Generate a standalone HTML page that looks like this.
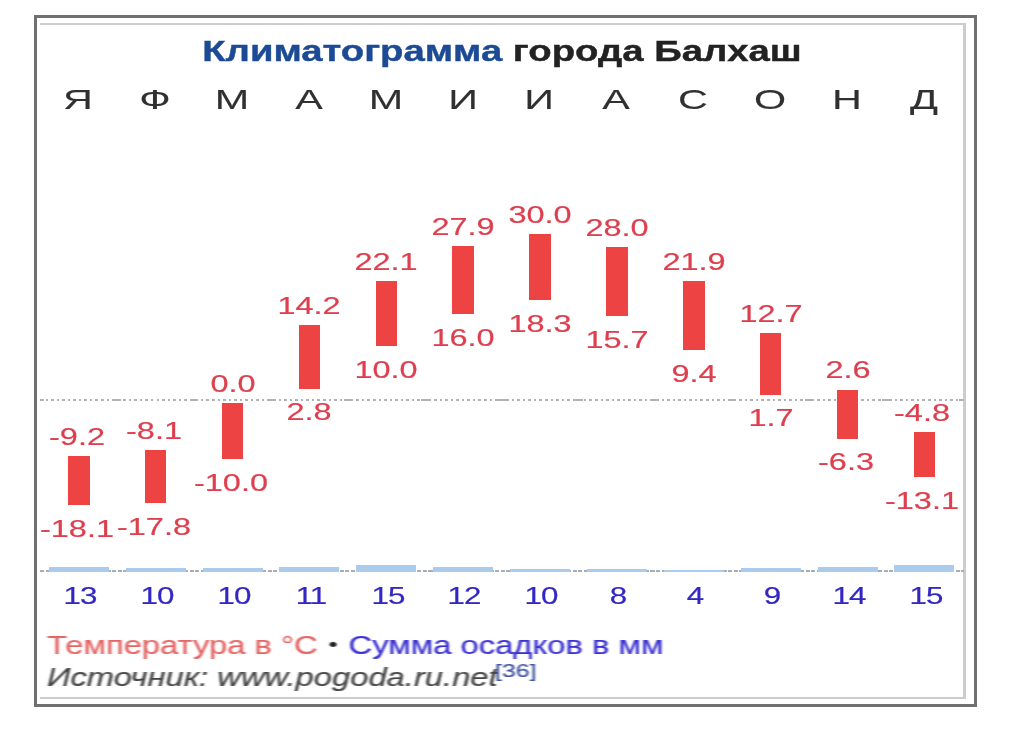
<!DOCTYPE html>
<html lang="ru"><head><meta charset="utf-8"><title>Климатограмма города Балхаш</title>
<style>
html,body{margin:0;padding:0;background:#fff}
body{width:1013px;height:734px;position:relative;overflow:hidden;font-family:"Liberation Sans",Arial,sans-serif}
.a{position:absolute}
.t{position:absolute;white-space:nowrap;line-height:1;transform-origin:50% 50%;-webkit-text-stroke:0.2px currentColor;filter:blur(0.55px)}
.f{-webkit-text-stroke:0.2px currentColor;filter:blur(0.7px)}
.c{transform:translateX(-50%) scaleX(var(--k))}
.l{transform-origin:0 50%;transform:scaleX(var(--k))}
.outer{left:34px;top:15px;width:937px;height:686px;border:3px solid #707070}
.in{background:#cccccc}
.bar{background:#ee4343;width:21.6px}
.pb{background:#aacbec;width:60px}
.hi,.lo{color:#de3f4e;font-size:23px;--k:1.41}
.mo{color:#303030;font-size:28.5px;--k:1.45;-webkit-text-stroke:0.1px currentColor}
.pr{color:#3226c4;font-size:23px;--k:1.36;letter-spacing:-0.7px}
</style></head><body>
<div class="a outer"></div>
<div class="a in" style="left:40px;top:23px;width:925.5px;height:2.3px"></div>
<div class="a in" style="left:963px;top:23px;width:2.5px;height:676px"></div>
<div class="a in" style="left:40px;top:697px;width:925.5px;height:2px"></div>

<div class="t c" style="left:501.5px;top:36.4px;font-size:30px;font-weight:bold;--k:1.276;-webkit-text-stroke:0.4px currentColor;color:#222"><span style="color:#1c4a94">Климатограмма</span> города Балхаш</div>
<div class="t c mo" style="left:78.2px;top:85.4px">Я</div>
<div class="t c mo" style="left:155.1px;top:85.4px">Ф</div>
<div class="t c mo" style="left:231.9px;top:85.4px">М</div>
<div class="t c mo" style="left:308.8px;top:85.4px">А</div>
<div class="t c mo" style="left:385.7px;top:85.4px">М</div>
<div class="t c mo" style="left:462.6px;top:85.4px">И</div>
<div class="t c mo" style="left:539.4px;top:85.4px">И</div>
<div class="t c mo" style="left:616.3px;top:85.4px">А</div>
<div class="t c mo" style="left:693.2px;top:85.4px">С</div>
<div class="t c mo" style="left:770.0px;top:85.4px">О</div>
<div class="t c mo" style="left:846.9px;top:85.4px">Н</div>
<div class="t c mo" style="left:923.8px;top:85.4px">Д</div>
<div class="a" style="left:40px;top:398.8px;width:924px;height:2px;filter:blur(0.4px);background:repeating-linear-gradient(90deg,#b2b2b2 0,#b2b2b2 2.5px,transparent 2.5px,transparent 5.55px)"></div>
<div class="a" style="left:40.0px;top:398.8px;width:4.4px;height:2px;background:#b2b2b2;filter:blur(0.4px)"></div>
<div class="a" style="left:113.3px;top:398.8px;width:8.0px;height:2px;background:#b2b2b2;filter:blur(0.4px)"></div>
<div class="a" style="left:190.1px;top:398.8px;width:8.0px;height:2px;background:#b2b2b2;filter:blur(0.4px)"></div>
<div class="a" style="left:267.0px;top:398.8px;width:8.0px;height:2px;background:#b2b2b2;filter:blur(0.4px)"></div>
<div class="a" style="left:343.9px;top:398.8px;width:8.0px;height:2px;background:#b2b2b2;filter:blur(0.4px)"></div>
<div class="a" style="left:420.8px;top:398.8px;width:8.0px;height:2px;background:#b2b2b2;filter:blur(0.4px)"></div>
<div class="a" style="left:497.6px;top:398.8px;width:8.0px;height:2px;background:#b2b2b2;filter:blur(0.4px)"></div>
<div class="a" style="left:574.5px;top:398.8px;width:8.0px;height:2px;background:#b2b2b2;filter:blur(0.4px)"></div>
<div class="a" style="left:651.4px;top:398.8px;width:8.0px;height:2px;background:#b2b2b2;filter:blur(0.4px)"></div>
<div class="a" style="left:728.2px;top:398.8px;width:8.0px;height:2px;background:#b2b2b2;filter:blur(0.4px)"></div>
<div class="a" style="left:805.1px;top:398.8px;width:8.0px;height:2px;background:#b2b2b2;filter:blur(0.4px)"></div>
<div class="a" style="left:882.0px;top:398.8px;width:8.0px;height:2px;background:#b2b2b2;filter:blur(0.4px)"></div>
<div class="a" style="left:958.8px;top:398.8px;width:5.2px;height:2px;background:#b2b2b2;filter:blur(0.4px)"></div>
<div class="a" style="left:40px;top:570.3px;width:924px;height:1.8px;background:repeating-linear-gradient(90deg,#a8aeb6 0,#a8aeb6 4px,transparent 4px,transparent 5.55px)"></div>
<div class="a bar" style="left:68.0px;top:456.0px;height:49.2px"></div>
<div class="t c hi" style="left:76.8px;top:425.9px">-9.2</div>
<div class="t c lo" style="left:76.8px;top:517.7px">-18.1</div>
<div class="a pb" style="left:48.8px;top:566.7px;height:5.3px"></div>
<div class="t c pr" style="left:80.0px;top:584.7px">13</div>
<div class="a bar" style="left:144.9px;top:449.8px;height:53.6px"></div>
<div class="t c hi" style="left:153.7px;top:419.7px">-8.1</div>
<div class="t c lo" style="left:153.7px;top:515.9px">-17.8</div>
<div class="a pb" style="left:125.7px;top:568.4px;height:3.6px"></div>
<div class="t c pr" style="left:156.9px;top:584.7px">10</div>
<div class="a bar" style="left:221.7px;top:403.1px;height:56.0px"></div>
<div class="t c hi" style="left:232.5px;top:373.0px">0.0</div>
<div class="t c lo" style="left:230.5px;top:471.6px">-10.0</div>
<div class="a pb" style="left:202.5px;top:568.4px;height:3.6px"></div>
<div class="t c pr" style="left:233.7px;top:584.7px">10</div>
<div class="a bar" style="left:298.6px;top:325.2px;height:63.5px"></div>
<div class="t c hi" style="left:309.4px;top:295.1px">14.2</div>
<div class="t c lo" style="left:309.4px;top:401.2px">2.8</div>
<div class="a pb" style="left:279.4px;top:567.0px;height:5.0px"></div>
<div class="t c pr" style="left:310.6px;top:584.7px">11</div>
<div class="a bar" style="left:375.5px;top:280.7px;height:65.8px"></div>
<div class="t c hi" style="left:386.3px;top:250.6px">22.1</div>
<div class="t c lo" style="left:386.3px;top:359.0px">10.0</div>
<div class="a pb" style="left:356.3px;top:564.6px;height:7.4px"></div>
<div class="t c pr" style="left:387.5px;top:584.7px">15</div>
<div class="a bar" style="left:452.4px;top:246.3px;height:68.1px"></div>
<div class="t c hi" style="left:463.2px;top:216.2px">27.9</div>
<div class="t c lo" style="left:463.2px;top:326.9px">16.0</div>
<div class="a pb" style="left:433.2px;top:566.9px;height:5.1px"></div>
<div class="t c pr" style="left:464.4px;top:584.7px">12</div>
<div class="a bar" style="left:529.2px;top:234.4px;height:65.8px"></div>
<div class="t c hi" style="left:540.0px;top:204.3px">30.0</div>
<div class="t c lo" style="left:540.0px;top:312.7px">18.3</div>
<div class="a pb" style="left:510.0px;top:568.5px;height:3.5px"></div>
<div class="t c pr" style="left:541.2px;top:584.7px">10</div>
<div class="a bar" style="left:606.1px;top:246.6px;height:69.4px"></div>
<div class="t c hi" style="left:616.9px;top:216.5px">28.0</div>
<div class="t c lo" style="left:616.9px;top:328.5px">15.7</div>
<div class="a pb" style="left:586.9px;top:568.6px;height:3.4px"></div>
<div class="t c pr" style="left:618.1px;top:584.7px">8</div>
<div class="a bar" style="left:683.0px;top:280.8px;height:69.4px"></div>
<div class="t c hi" style="left:693.8px;top:250.7px">21.9</div>
<div class="t c lo" style="left:693.8px;top:362.7px">9.4</div>
<div class="a pb" style="left:663.8px;top:570.2px;height:1.8px"></div>
<div class="t c pr" style="left:695.0px;top:584.7px">4</div>
<div class="a bar" style="left:759.8px;top:333.2px;height:61.7px"></div>
<div class="t c hi" style="left:770.6px;top:303.1px">12.7</div>
<div class="t c lo" style="left:770.6px;top:407.4px">1.7</div>
<div class="a pb" style="left:740.6px;top:568.2px;height:3.8px"></div>
<div class="t c pr" style="left:771.8px;top:584.7px">9</div>
<div class="a bar" style="left:836.7px;top:389.5px;height:49.3px"></div>
<div class="t c hi" style="left:847.5px;top:359.4px">2.6</div>
<div class="t c lo" style="left:845.5px;top:451.3px">-6.3</div>
<div class="a pb" style="left:817.5px;top:566.9px;height:5.1px"></div>
<div class="t c pr" style="left:848.7px;top:584.7px">14</div>
<div class="a bar" style="left:913.6px;top:431.7px;height:45.3px"></div>
<div class="t c hi" style="left:922.4px;top:401.6px">-4.8</div>
<div class="t c lo" style="left:922.4px;top:489.5px">-13.1</div>
<div class="a pb" style="left:894.4px;top:564.6px;height:7.4px"></div>
<div class="t c pr" style="left:925.6px;top:584.7px">15</div>
<div class="t l f" style="left:47px;top:632.9px;font-size:25px;--k:1.31;color:#222"><span style="color:#e56464">Температура в °C</span> <span style="font-size:19px;position:relative;top:-2.5px;margin:0 1.5px">•</span> <span style="color:#3a30d0">Сумма осадков в мм</span></div>
<div class="t l f" style="left:47px;top:665.0px;font-size:25px;--k:1.31;color:#444;font-style:italic">Источник: www.pogoda.ru.net<span style="font-size:19px;font-style:normal;color:#3a4f9c;position:relative;top:-9.5px;margin-left:-2px">[36]</span></div>
</body></html>
